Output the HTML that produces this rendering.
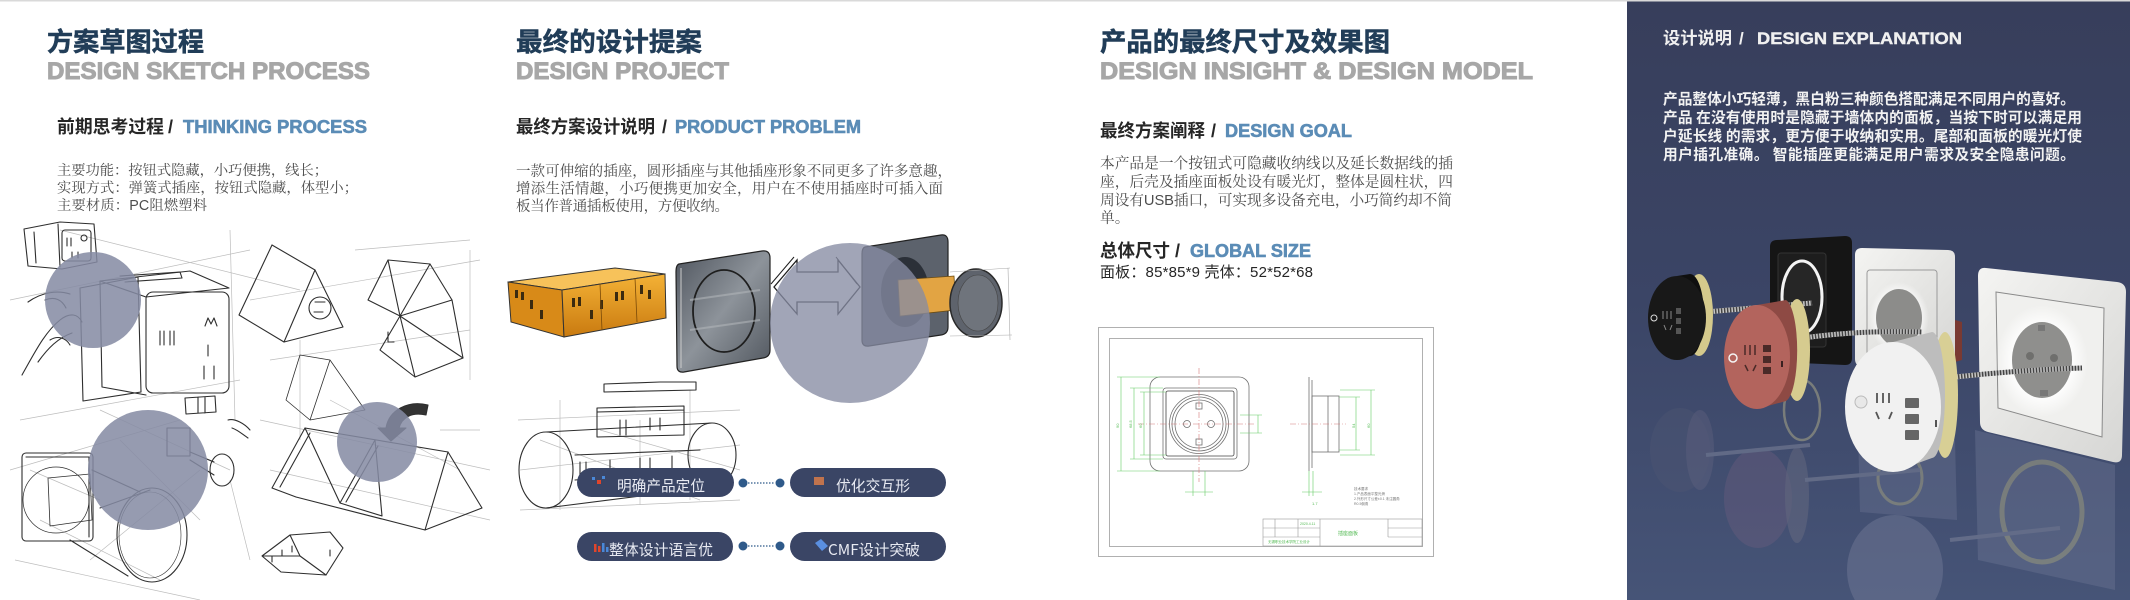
<!DOCTYPE html>
<html><head><meta charset="utf-8">
<style>
html,body{margin:0;padding:0;background:#fff;}
svg{display:block;}
.t{font-family:"Noto Sans CJK SC","WenQuanYi Zen Hei",sans-serif;font-weight:700;}
.tr{font-family:"Noto Sans CJK SC","WenQuanYi Zen Hei",sans-serif;font-weight:400;}
.en{font-family:"Liberation Sans",sans-serif;font-weight:700;}
.bd{font-family:"Liberation Sans","Noto Serif CJK SC",serif;}
.ss{font-family:"Liberation Sans","Noto Sans CJK SC",sans-serif;}
.sk{fill:none;stroke:#2e2e2e;stroke-width:1.1;stroke-linejoin:round;stroke-linecap:round;}
.lt{fill:none;stroke:#bdbdbd;stroke-width:0.7;}
.gd{fill:none;stroke:#66cc66;stroke-width:0.6;}
</style></head><body>
<svg width="2130" height="600" viewBox="0 0 2130 600" xmlns="http://www.w3.org/2000/svg">
<defs>
<linearGradient id="bg" x1="0" y1="0" x2="0" y2="1">
<stop offset="0" stop-color="#373e5b"/><stop offset="0.5" stop-color="#3b4566"/><stop offset="1" stop-color="#465477"/>
</linearGradient>
<linearGradient id="org" x1="0" y1="0" x2="0" y2="1">
<stop offset="0" stop-color="#f4b236"/><stop offset="1" stop-color="#c97a10"/>
</linearGradient>
<linearGradient id="gp" x1="0" y1="0" x2="1" y2="1">
<stop offset="0" stop-color="#4f555e"/><stop offset="0.5" stop-color="#8d939a"/><stop offset="1" stop-color="#50565e"/>
</linearGradient>
<radialGradient id="glow" cx="0.5" cy="0.5" r="0.5">
<stop offset="0.6" stop-color="#ffffff"/><stop offset="1" stop-color="#ffffff" stop-opacity="0"/>
</radialGradient>
<linearGradient id="wp" x1="0" y1="0" x2="1" y2="1">
<stop offset="0" stop-color="#f4f4f2"/><stop offset="1" stop-color="#d6d6d4"/>
</linearGradient>
</defs>

<rect x="0" y="0" width="2130" height="600" fill="#fff"/>
<rect x="0" y="0" width="2130" height="1.5" fill="#d9d9d9"/>

<!-- ========== SECTION 1 ========== -->
<text x="47" y="51" class="t" font-size="26" fill="#213d58" stroke="#213d58" stroke-width="0.5" textLength="157" lengthAdjust="spacingAndGlyphs">方案草图过程</text>
<text x="47" y="79" class="en" font-size="24" fill="#a7a7a7" stroke="#a7a7a7" stroke-width="1" textLength="323" lengthAdjust="spacingAndGlyphs">DESIGN SKETCH PROCESS</text>
<text x="57" y="133" class="t" font-size="18" fill="#262626" textLength="107" lengthAdjust="spacingAndGlyphs">前期思考过程</text>
<text x="168" y="133" class="en" font-size="18" fill="#262626">/</text>
<text x="183" y="133" class="en" font-size="18" fill="#5b8cb6" stroke="#5b8cb6" stroke-width="0.6" textLength="184" lengthAdjust="spacingAndGlyphs">THINKING PROCESS</text>
<g class="bd" font-size="14.3" fill="#4d4d4d">
<text x="57" y="175" textLength="271" lengthAdjust="spacing">主要功能：按钮式隐藏，小巧便携，线长；</text>
<text x="57" y="192.5" textLength="301" lengthAdjust="spacing">实现方式：弹簧式插座，按钮式隐藏，体型小；</text>
<text x="57" y="210" textLength="150" lengthAdjust="spacing">主要材质：PC阻燃塑料</text>
</g>

<!-- sketches section 1 -->
<g class="lt">
<path d="M10,300 L250,250 M20,420 L240,380 M60,230 L300,290 M100,410 L230,470 M230,230 L235,420 M250,300 L480,260 M270,360 L470,330 M260,420 L490,470 M300,340 L300,440 M470,250 L470,380 M15,560 L200,600 M10,470 L180,420 M90,560 L200,470 M230,480 L250,560 M330,400 L460,470 M355,250 L470,240"/>
<path d="M40,520 L160,580 M30,470 L100,500 M120,440 L200,520 M440,430 L480,430 M270,470 L490,520"/>
</g>
<g class="sk">
<path d="M24,229 L60,222 L94,224 L97,262 L62,269 L28,266 Z"/>
<path d="M34,232 L36,263 M58,224 L60,267"/>
<rect x="62" y="230" width="29" height="31" rx="3"/>
<path d="M67,238 v8 M71,238 v8 M72,252 v6 M78,252 v6"/>
<circle cx="84" cy="238" r="3"/>
<path d="M80,288 L138,277 L141,392 L83,401 Z"/>
<path d="M100,281 L190,271 L229,288 L146,297 Z"/>
<path d="M100,281 L102,387 L146,395"/>
<rect x="146" y="292" width="83" height="101" rx="7"/>
<path d="M160,331 v14 M164,331 v14 M170,331 v14 M174,331 v14"/>
<path d="M205,326 l3,-8 l3,6 l3,-6 l3,8"/>
<path d="M208,345 v11 M204,366 v13 M214,366 v13"/>
<path d="M120,276 L180,272 L182,278 L125,282"/>
<path d="M22,375 C35,352 45,332 60,320 C70,312 78,314 82,322 M38,362 C48,348 58,338 72,333 M28,302 C42,292 58,290 70,294 M50,340 C58,335 66,338 70,345 M45,300 C55,296 62,300 66,308"/>
<path d="M315,270 L284,342 L343,327 Z"/>
<path d="M272,245 L239,315 L284,342 M272,245 L315,270"/>
<circle cx="320" cy="308" r="11"/>
<path d="M315,302 h10 M314,312 h9"/>
<path d="M388,260 L430,264 L452,300 L463,358 L415,377 L380,350 L400,316 L368,300 Z"/>
<path d="M400,316 L452,300 M400,316 L415,377 M388,260 L400,316 M430,264 L400,316 M400,316 L463,358"/>
<path d="M388,332 v10 h6"/>
<path d="M330,360 L310,420 L365,410 Z M300,355 L330,360 M300,355 L286,400 L310,420" stroke-width="0.8"/>
<path d="M305,428 L448,452 M305,428 L272,488 L296,497 M305,428 L340,503 M375,440 L340,503 M375,440 L382,516 M448,452 L425,530 M448,452 L482,508 L425,530 M296,497 L425,530 M340,503 L382,516"/>
<path d="M310,433 L280,487 M378,446 L346,502"/>
<path d="M262,556 L290,535 L330,532 L343,548 L326,575 L281,572 Z M290,535 L300,556 L326,575 M300,556 L262,556"/>
<path d="M272,556 v6 M282,550 v6 M292,546 v6 M330,550 v6"/>
<rect x="22" y="453" width="71" height="88" rx="4"/>
<path d="M26,457 L89,457 L89,537"/>
<circle cx="56" cy="500" r="33" stroke-width="0.7"/>
<path d="M48,478 L90,474 L92,520 L50,526 Z" stroke-width="0.8"/>
<path d="M92,470 L140,492 M70,540 L128,576 M100,508 L150,490"/>
<ellipse cx="152" cy="535" rx="35" ry="47"/>
<ellipse cx="150" cy="535" rx="31" ry="43" stroke-width="0.6"/>
<rect x="167" y="428" width="23" height="28"/>
<path d="M190,452 L214,462 M190,460 L214,475"/>
<ellipse cx="222" cy="470" rx="12" ry="16"/>
<path d="M185,398 L215,396 L216,412 L186,414 Z M198,397 v16 M205,397 v16"/>
<path d="M228,420 C235,418 245,424 250,430 M232,428 C238,430 242,434 248,438"/>
<path d="M386,428 C389,410 408,400 428,405 L426,415 C412,412 402,417 399,428 L406,428 L391,441 L378,428 Z" fill="#333"/>
</g>
<g fill="#858aa3" fill-opacity="0.86">
<circle cx="93" cy="300" r="48"/>
<circle cx="148" cy="470" r="60"/>
<circle cx="377" cy="442" r="40"/>
</g>

<!-- ========== SECTION 2 ========== -->
<text x="516" y="51" class="t" font-size="26" fill="#213d58" stroke="#213d58" stroke-width="0.5" textLength="186" lengthAdjust="spacingAndGlyphs">最终的设计提案</text>
<text x="516" y="79" class="en" font-size="24" fill="#a7a7a7" stroke="#a7a7a7" stroke-width="1" textLength="213" lengthAdjust="spacingAndGlyphs">DESIGN PROJECT</text>
<text x="516" y="133" class="t" font-size="18" fill="#262626" textLength="139" lengthAdjust="spacingAndGlyphs">最终方案设计说明</text>
<text x="662" y="133" class="en" font-size="18" fill="#262626">/</text>
<text x="675" y="133" class="en" font-size="18" fill="#5b8cb6" stroke="#5b8cb6" stroke-width="0.6" textLength="186" lengthAdjust="spacingAndGlyphs">PRODUCT PROBLEM</text>
<g class="bd" font-size="14.5" fill="#4d4d4d">
<text x="516" y="176" textLength="436" lengthAdjust="spacing">一款可伸缩的插座，圆形插座与其他插座形象不同更多了许多意趣，</text>
<text x="516" y="193.5" textLength="427" lengthAdjust="spacing">增添生活情趣，小巧便携更加安全，用户在不使用插座时可插入面</text>
<text x="516" y="211" textLength="213" lengthAdjust="spacing">板当作普通插板使用，方便收纳。</text>
</g>

<g class="lt" stroke="#aaa">
<path d="M518,420 L740,410 M520,510 L740,500 M540,440 L700,500 M560,400 L560,510 M640,420 L640,505 M690,390 L690,500 M520,470 L740,445 M600,430 L740,470"/>
</g>
<g class="sk" stroke="#555" stroke-width="0.9">
<path d="M604,384 L660,382 L696,382 L696,390 L604,392 Z"/>
<path d="M597,408 L684,406 L684,435 L597,437 Z M597,412 L684,410"/>
<path d="M620,420 v15 M626,420 v15 M650,418 v12 M660,418 v12"/>
<ellipse cx="546" cy="470" rx="27" ry="38"/>
<ellipse cx="712" cy="455" rx="24" ry="32"/>
<path d="M546,432 L712,423 M546,508 L712,487 M575,455 L700,450 M575,480 L700,470"/>
<path d="M580,462 v14 M586,462 v14 M610,460 v14 M640,458 v14 M650,458 v14 M672,456 v14"/>
</g>

<path d="M508,282 L615,268 L665,274 L562,290 Z" fill="#f7c25a" stroke="#333" stroke-width="1"/>
<path d="M508,282 L562,290 L564,337 L511,322 Z" fill="#d88a18" stroke="#333" stroke-width="1"/>
<path d="M562,290 L665,274 L666,318 L564,337 Z" fill="url(#org)" stroke="#333" stroke-width="1"/>
<g fill="#3a2a10">
<rect x="515" y="290" width="3" height="8"/><rect x="521" y="292" width="3" height="8"/><rect x="530" y="300" width="3" height="9"/><rect x="540" y="310" width="3" height="9"/>
<rect x="572" y="298" width="3" height="9"/><rect x="578" y="297" width="3" height="9"/><rect x="600" y="300" width="3" height="9"/><rect x="615" y="292" width="3" height="9"/><rect x="621" y="291" width="3" height="9"/><rect x="640" y="285" width="3" height="9"/><rect x="648" y="290" width="3" height="9"/><rect x="590" y="310" width="3" height="9"/>
</g>
<path d="M600,284 L602,330 M635,278 L637,322" stroke="#7a4a08" stroke-width="0.8"/>

<path d="M679,264 L762,251 Q770,250 770,258 L770,350 Q770,357 763,358 L684,372 Q677,373 677,366 L676,272 Q676,265 679,264 Z" fill="url(#gp)" stroke="#222" stroke-width="1.2"/>
<path d="M681,268 L681,368" stroke="#ccc" stroke-width="1"/>
<ellipse cx="724" cy="311" rx="31" ry="41" fill="none" stroke="#1e1e1e" stroke-width="1.8"/>
<path d="M690,300 L760,290 M690,330 L760,320" stroke="#b0b4b8" stroke-width="2" opacity="0.6"/>

<path d="M774,287 L797,260 L797,272 L838,272 L838,260 L860,287 L838,314 L838,302 L797,302 L797,314 Z" fill="#fff" stroke="#1e1e1e" stroke-width="1.3"/>
<path d="M771,284 L794,257 M836,257 L857,284" fill="none" stroke="#1e1e1e" stroke-width="1"/>

<path d="M865,247 L941,235 Q948,234 948,242 L948,327 Q948,334 941,335 L869,346 Q862,347 862,340 L862,254 Q862,248 865,247 Z" fill="#5c626c" stroke="#222" stroke-width="1.2"/>
<ellipse cx="905" cy="292" rx="24" ry="35" fill="#2b3038"/>
<path d="M898,280 L954,276 L956,310 L900,316 Z" fill="#e2a443" stroke="#6a4a10" stroke-width="0.8"/>
<ellipse cx="976" cy="303" rx="26" ry="34" fill="#5e636c" stroke="#2a2a2a" stroke-width="1.5"/>
<ellipse cx="978" cy="303" rx="20" ry="28" fill="#6f747c" stroke="#444" stroke-width="0.6"/>
<path d="M950,272 L1010,268 M950,336 L1012,335 M1008,268 L1010,340" stroke="#aaa" stroke-width="0.6" fill="none"/>

<circle cx="850" cy="323" r="80" fill="#878ca3" fill-opacity="0.78"/>

<g>
<rect x="577" y="468" width="157" height="29" rx="14.5" fill="#3a4565"/>
<rect x="790" y="468" width="156" height="29" rx="14.5" fill="#3a4565"/>
<rect x="577" y="532" width="156" height="29" rx="14.5" fill="#3a4565"/>
<rect x="790" y="532" width="156" height="29" rx="14.5" fill="#3a4565"/>
</g>
<rect x="592" y="477" width="3" height="3" fill="#4a88d8"/><rect x="597" y="480" width="4" height="4" fill="#e0452b"/><rect x="602" y="476" width="3" height="3" fill="#4a88d8"/>
<rect x="814" y="477" width="10" height="8" fill="#c0734d"/>
<rect x="594" y="544" width="2.5" height="8" fill="#e0452b"/><rect x="598" y="546" width="2.5" height="6" fill="#e0452b"/><rect x="602" y="543" width="2.5" height="9" fill="#4a88d8"/><rect x="606" y="547" width="2.5" height="5" fill="#4a88d8"/>
<path d="M815,543 L821,539 L828,546 L822,551 Z" fill="#5a8fe0"/>
<g class="tr" font-size="15" fill="#e8eaf2">
<text x="617" y="491" textLength="88" lengthAdjust="spacingAndGlyphs">明确产品定位</text>
<text x="836" y="491" textLength="74" lengthAdjust="spacingAndGlyphs">优化交互形</text>
<text x="609" y="555" textLength="104" lengthAdjust="spacingAndGlyphs">整体设计语言优</text>
<text x="828" y="555" textLength="92" lengthAdjust="spacingAndGlyphs">CMF设计突破</text>
</g>
<g fill="#2f5a8a">
<circle cx="743" cy="483" r="4.5"/><circle cx="780" cy="483" r="4.5"/>
<circle cx="743" cy="546" r="4.5"/><circle cx="780" cy="546" r="4.5"/>
</g>
<path d="M748,483 H775 M748,546 H775" stroke="#2f5a8a" stroke-width="1.2" stroke-dasharray="1.5,1.5"/>

<!-- ========== SECTION 3 ========== -->
<text x="1100" y="51" class="t" font-size="26" fill="#213d58" stroke="#213d58" stroke-width="0.5" textLength="290" lengthAdjust="spacingAndGlyphs">产品的最终尺寸及效果图</text>
<text x="1100" y="79" class="en" font-size="24" fill="#a7a7a7" stroke="#a7a7a7" stroke-width="1" textLength="433" lengthAdjust="spacingAndGlyphs">DESIGN INSIGHT &amp; DESIGN MODEL</text>
<text x="1100" y="137" class="t" font-size="18" fill="#262626" textLength="105" lengthAdjust="spacingAndGlyphs">最终方案阐释</text>
<text x="1211" y="137" class="en" font-size="18" fill="#262626">/</text>
<text x="1225" y="137" class="en" font-size="18" fill="#5b8cb6" stroke="#5b8cb6" stroke-width="0.6" textLength="127" lengthAdjust="spacingAndGlyphs">DESIGN GOAL</text>
<g class="bd" font-size="14.7" fill="#4d4d4d">
<text x="1100" y="168" textLength="353" lengthAdjust="spacing">本产品是一个按钮式可隐藏收纳线以及延长数据线的插</text>
<text x="1100" y="186.5" textLength="353" lengthAdjust="spacing">座，后壳及插座面板处设有暖光灯，整体是圆柱状，四</text>
<text x="1100" y="205" textLength="352" lengthAdjust="spacing">周设有USB插口，可实现多设备充电，小巧简约却不简</text>
<text x="1100" y="222.5">单。</text>
</g>
<text x="1100" y="257" class="t" font-size="18" fill="#262626" textLength="70" lengthAdjust="spacingAndGlyphs">总体尺寸</text>
<text x="1175" y="257" class="en" font-size="18" fill="#262626">/</text>
<text x="1190" y="257" class="en" font-size="18" fill="#5b8cb6" stroke="#5b8cb6" stroke-width="0.6" textLength="121" lengthAdjust="spacingAndGlyphs">GLOBAL SIZE</text>
<text x="1100" y="277" class="ss" font-size="15" fill="#262626" textLength="213" lengthAdjust="spacing">面板：85*85*9 壳体：52*52*68</text>

<rect x="1098.5" y="327.5" width="335" height="229" fill="#fff" stroke="#b0b0b0" stroke-width="1"/>
<rect x="1109.5" y="338.5" width="313" height="208" fill="none" stroke="#b0b0b0" stroke-width="1"/>
<g fill="none" stroke="#707070" stroke-width="0.8">
<rect x="1150" y="377" width="99" height="94" rx="10"/>
<rect x="1163" y="388" width="74" height="71" rx="3"/>
<rect x="1166" y="391" width="68" height="65" rx="2" stroke="#444"/>
<circle cx="1199" cy="424" r="29.5"/>
<circle cx="1199" cy="424" r="27"/>
<circle cx="1199" cy="424" r="24"/>
<rect x="1196" y="403" width="6" height="6"/>
<rect x="1196" y="439" width="6" height="6"/>
<circle cx="1187" cy="424" r="3.5"/>
<circle cx="1211" cy="424" r="3.5"/>
<path d="M1309,377 L1309,471 M1312,380 L1312,468"/>
<rect x="1312" y="396" width="27" height="56"/>
<path d="M1328,396 V452"/>
</g>
<path d="M1199,368 V482 M1138,424 H1256 M1290,424 H1346" stroke="#d67a7a" stroke-width="0.6" stroke-dasharray="6,2,1,2" fill="none"/>
<g class="gd">
<path d="M1121,377 V471 M1117,377 H1160 M1117,471 H1160"/>
<path d="M1134,388 V459 M1130,388 H1163 M1130,459 H1163"/>
<path d="M1144,392 V455 M1140,392 H1166 M1140,455 H1166"/>
<path d="M1258,415 V433 M1240,415 H1262 M1240,433 H1262"/>
<path d="M1193,471 V496 M1205,471 V496 M1185,492 H1213"/>
<path d="M1356,397 V450 M1339,397 H1360 M1339,450 H1360"/>
<path d="M1371,390 V455 M1340,390 H1375 M1340,455 H1375"/>
<path d="M1309,471 V496 M1313,471 V496 M1302,492 H1322"/>
</g>
<g font-family="Liberation Sans,sans-serif" font-size="4" fill="#55bb55">
<text x="1119" y="428" transform="rotate(-90 1119 428)">90</text>
<text x="1132" y="428" transform="rotate(-90 1132 428)">68.5</text>
<text x="1142" y="428" transform="rotate(-90 1142 428)">60</text>
<text x="1312" y="505">1.7</text>
<text x="1355" y="428" transform="rotate(-90 1355 428)">54</text>
<text x="1370" y="428" transform="rotate(-90 1370 428)">60</text>
</g>
<g class="ss" font-size="3.5" fill="#777">
<text x="1354" y="490">技术要求</text>
<text x="1354" y="495">1.产品表面平整光滑</text>
<text x="1354" y="500">2.外形尺寸公差±0.1 未注圆角</text>
<text x="1354" y="505">R0.5倒角</text>
</g>
<g fill="none" stroke="#999" stroke-width="0.6">
<rect x="1263" y="519" width="159" height="27"/>
<path d="M1263,528 H1320 M1263,537 H1320 M1388,528 H1422 M1388,537 H1422 M1275,519 V537 M1298,519 V537 M1320,519 V546 M1388,519 V537"/>
</g>
<g class="ss" font-size="5" fill="#55bb55">
<text x="1338" y="535">插座面板</text>
<text x="1300" y="525" font-size="3.5">2020.4.11</text>
<text x="1268" y="543" font-size="3.5">无锡职业技术学院工业设计</text>
</g>

<!-- ========== DARK PANEL ========== -->
<rect x="1627" y="1.5" width="503" height="598.5" fill="url(#bg)"/>
<text x="1663" y="44" class="t" font-size="17" fill="#f0f0f0" textLength="69" lengthAdjust="spacingAndGlyphs">设计说明</text>
<text x="1739" y="44" class="en" font-size="17" fill="#f0f0f0">/</text>
<text x="1757" y="44" class="en" font-size="17" fill="#f0f0f0" stroke="#f0f0f0" stroke-width="0.4" textLength="205" lengthAdjust="spacingAndGlyphs">DESIGN EXPLANATION</text>
<g class="t" font-size="14.7" fill="#f2f2f2">
<text x="1663" y="104" textLength="412" lengthAdjust="spacing">产品整体小巧轻薄，黑白粉三种颜色搭配满足不同用户的喜好。</text>
<text x="1663" y="122.5" textLength="419" lengthAdjust="spacing">产品 在没有使用时是隐藏于墙体内的面板，当按下时可以满足用</text>
<text x="1663" y="141" textLength="419" lengthAdjust="spacing">户延长线 的需求，更方便于收纳和实用。尾部和面板的暖光灯使</text>
<text x="1663" y="159.5" textLength="412" lengthAdjust="spacing">用户插孔准确。 智能插座更能满足用户需求及安全隐患问题。</text>
</g>

<g opacity="0.42">
<path d="M1975,430 L2115,465 L2115,590 L1978,560 Z" fill="#6d7694"/>
<ellipse cx="2042" cy="512" rx="40" ry="50" fill="none" stroke="#c2bd8c" stroke-width="5"/>
<path d="M1858,430 L1955,440 L1957,520 L1860,512 Z" fill="#6a7392"/>
<ellipse cx="1900" cy="478" rx="22" ry="26" fill="none" stroke="#c2bd8c" stroke-width="3"/>
<ellipse cx="1680" cy="450" rx="30" ry="42" fill="#4e5673"/>
<ellipse cx="1700" cy="450" rx="14" ry="40" fill="#77728a" opacity="0.6"/>
<ellipse cx="1758" cy="498" rx="34" ry="50" fill="#6a5d7e"/>
<ellipse cx="1797" cy="495" rx="12" ry="48" fill="#8a8590" opacity="0.6"/>
<ellipse cx="1802" cy="410" rx="18" ry="30" fill="none" stroke="#c9c28f" stroke-width="2.5"/>
<ellipse cx="1895" cy="570" rx="48" ry="55" fill="#79809c"/>
<path d="M1706,455 L1810,445 M1805,480 L1920,470 M1950,540 L2060,528" stroke="#8f93a6" stroke-width="4" fill="none"/>
</g>

<path d="M1777,240 L1845,236 Q1852,236 1852,243 L1852,358 Q1852,365 1845,365 L1777,362 Q1770,362 1770,355 L1770,247 Q1770,240 1777,240 Z" fill="#151515"/>
<rect x="1778" y="253" width="48" height="94" rx="3" fill="#1d1d1d" stroke="#333" stroke-width="1"/>
<ellipse cx="1802" cy="297" rx="20" ry="36" fill="#262626" stroke="#f4f4f4" stroke-width="3"/>
<path d="M1862,248 L1948,250 Q1955,250 1955,257 L1955,362 Q1955,368 1948,368 L1862,366 Q1855,366 1855,359 L1855,255 Q1855,248 1862,248 Z" fill="url(#wp)"/>
<rect x="1867" y="270" width="70" height="92" rx="3" fill="none" stroke="#9a9a9a" stroke-width="1"/>
<ellipse cx="1899" cy="318" rx="30" ry="36" fill="url(#glow)"/>
<ellipse cx="1899" cy="318" rx="23" ry="29" fill="#8c8c8a"/>
<path d="M1955,320 L1962,322 L1962,360 L1955,362 Z" fill="#7a3a32"/>
<path d="M1986,268 L2117,282 Q2126,283 2126,292 L2122,455 Q2122,464 2113,462 L1988,432 Q1980,430 1980,422 L1978,276 Q1978,267 1986,268 Z" fill="url(#wp)"/>
<path d="M1996,292 L2104,308 L2102,437 L1998,408 Z" fill="#f0f0ee" stroke="#8a8a8a" stroke-width="1"/>
<ellipse cx="2042" cy="361" rx="46" ry="56" fill="url(#glow)"/>
<ellipse cx="2042" cy="360" rx="30" ry="38" fill="#8f8f8d"/>
<circle cx="2030" cy="356" r="4" fill="#6f6f6d"/>
<circle cx="2054" cy="358" r="4" fill="#6f6f6d"/>
<rect x="2038" y="325" width="7" height="6" fill="#777"/>
<rect x="2040" y="390" width="8" height="6" fill="#777"/>

<g fill="none" stroke-width="5">
<path d="M1706,312 L1812,303" stroke="#c8c8c8"/>
<path d="M1706,312 L1812,303" stroke="#444" stroke-dasharray="1.5,1.5"/>
<path d="M1803,338 Q1860,330 1922,332" stroke="#c8c8c8"/>
<path d="M1803,338 Q1860,330 1922,332" stroke="#444" stroke-dasharray="1.5,1.5"/>
<path d="M1955,377 Q2020,370 2082,368" stroke="#c8c8c8"/>
<path d="M1955,377 Q2020,370 2082,368" stroke="#444" stroke-dasharray="1.5,1.5"/>
</g>

<ellipse cx="1699" cy="315" rx="14" ry="41" fill="#d4c98c"/>
<path d="M1677,276 L1690,274 A14,41 0 0 1 1690,356 L1677,360 Z" fill="#0f0f0f"/>
<ellipse cx="1677" cy="318" rx="29" ry="42" fill="#181818"/>
<circle cx="1654" cy="318" r="3" fill="none" stroke="#ddd" stroke-width="1"/>
<path d="M1663,311 v8 M1667,311 v8 M1671,311 v8 M1664,325 l2,5 M1672,325 l-2,5" stroke="#8a8a8a" stroke-width="1"/>
<rect x="1676" y="308" width="5" height="6" fill="#555"/><rect x="1676" y="318" width="5" height="6" fill="#555"/><rect x="1676" y="328" width="5" height="6" fill="#555"/>

<ellipse cx="1797" cy="350" rx="13" ry="51" fill="#d6cb8f"/>
<path d="M1757,305 L1786,300 A13,51 0 0 1 1786,401 L1757,409 Z" fill="#8e4a44"/>
<ellipse cx="1757" cy="357" rx="33" ry="52" fill="#b3645d"/>
<circle cx="1733" cy="358" r="4" fill="none" stroke="#f4f4f4" stroke-width="1.5"/>
<path d="M1745,345 v10 M1750,345 v10 M1755,345 v10 M1745,365 l3,6 M1756,365 l-3,6" stroke="#4a2a28" stroke-width="1.5"/>
<rect x="1763" y="345" width="8" height="7" fill="#4a2a28"/><rect x="1763" y="356" width="8" height="7" fill="#4a2a28"/><rect x="1763" y="367" width="8" height="7" fill="#4a2a28"/>
<rect x="1781" y="361" width="2" height="6" fill="#3a2020"/>

<ellipse cx="1945" cy="395" rx="13" ry="63" fill="#d8cf95"/>
<path d="M1893,342 L1932,332 A13,63 0 0 1 1932,458 L1893,472 Z" fill="#bdbdbd"/>
<ellipse cx="1893" cy="407" rx="48" ry="65" fill="#f1f1f1"/>
<circle cx="1861" cy="402" r="6" fill="#e8e8e8" stroke="#bbb" stroke-width="1"/>
<path d="M1877,393 v10 M1883,393 v10 M1889,393 v10 M1876,412 l3,7 M1892,412 l-3,7" stroke="#555" stroke-width="1.8"/>
<rect x="1905" y="398" width="14" height="10" rx="1" fill="#666"/>
<rect x="1905" y="414" width="14" height="10" rx="1" fill="#666"/>
<rect x="1905" y="430" width="14" height="10" rx="1" fill="#666"/>
<rect x="1935" y="420" width="2" height="7" fill="#555"/>
</svg>
</body></html>
